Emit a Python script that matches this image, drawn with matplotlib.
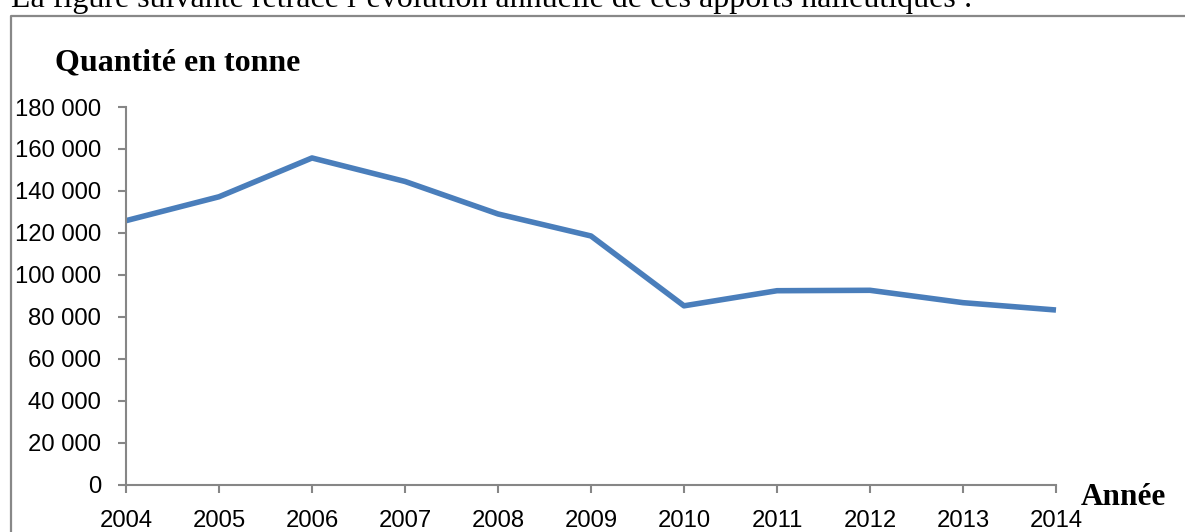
import matplotlib.pyplot as plt
from matplotlib.lines import Line2D

# Annual landings (tonnes)
years = [2004, 2005, 2006, 2007, 2008, 2009, 2010, 2011, 2012, 2013, 2014]
quantities = [125800, 137200, 155700, 144500, 129000, 118500, 85200,
              92400, 92600, 86700, 83200]
y_ticks = list(range(0, 180001, 20000))
y_labels = ["{:,}".format(v).replace(",", " ") for v in y_ticks]

W, H = 1185, 532
fig = plt.figure(figsize=(W / 100, H / 100), dpi=100)
ax = fig.add_axes([126 / W, 1 - 484.5 / H, 930 / W, 377.5 / H])

ax.plot(years, quantities, color="#4A7EBB", linewidth=4.0,
        solid_joinstyle="round", solid_capstyle="butt", clip_on=False)

ax.set_xlim(2004, 2014)
ax.set_ylim(0, 180000)
ax.set_xticks(years)
ax.set_yticks(y_ticks)
ax.set_yticklabels(y_labels)

for lab in ax.get_xticklabels() + ax.get_yticklabels():
    lab.set_fontfamily("Liberation Sans")
    lab.set_fontsize(17.2)

grey = "#868686"
for side in ("top", "right"):
    ax.spines[side].set_visible(False)
for side in ("left", "bottom"):
    ax.spines[side].set_color(grey)
    ax.spines[side].set_linewidth(1.5)
ax.tick_params(axis="x", direction="out", length=5.5, width=1.5, color=grey, pad=13)
ax.tick_params(axis="y", direction="out", length=6, width=1.5, color=grey, pad=12)

# Axis titles as in the Word/Excel figure
fig.text(55 / W, 1 - 70 / H, "Quantité en tonne", family="Liberation Serif",
         weight="bold", fontsize=23, va="baseline", ha="left")
fig.text(1081 / W, 1 - 505 / H, "Année", family="Liberation Serif",
         weight="bold", fontsize=22.5, va="baseline", ha="left")

# Surrounding text line (cut off at the top) and chart frame
fig.text(11 / W, 1 - 7.5 / H,
         "La figure suivante retrace l’évolution annuelle de ces apports halieutiques :",
         family="Liberation Serif", fontsize=23, va="baseline", ha="left")
fig.add_artist(Line2D([10.5 / W, 10.5 / W, 1.01], [-0.01, 1 - 16 / H, 1 - 16 / H],
                      transform=fig.transFigure, color="#888888", linewidth=1.6))

fig.savefig("out.png", dpi=100)
